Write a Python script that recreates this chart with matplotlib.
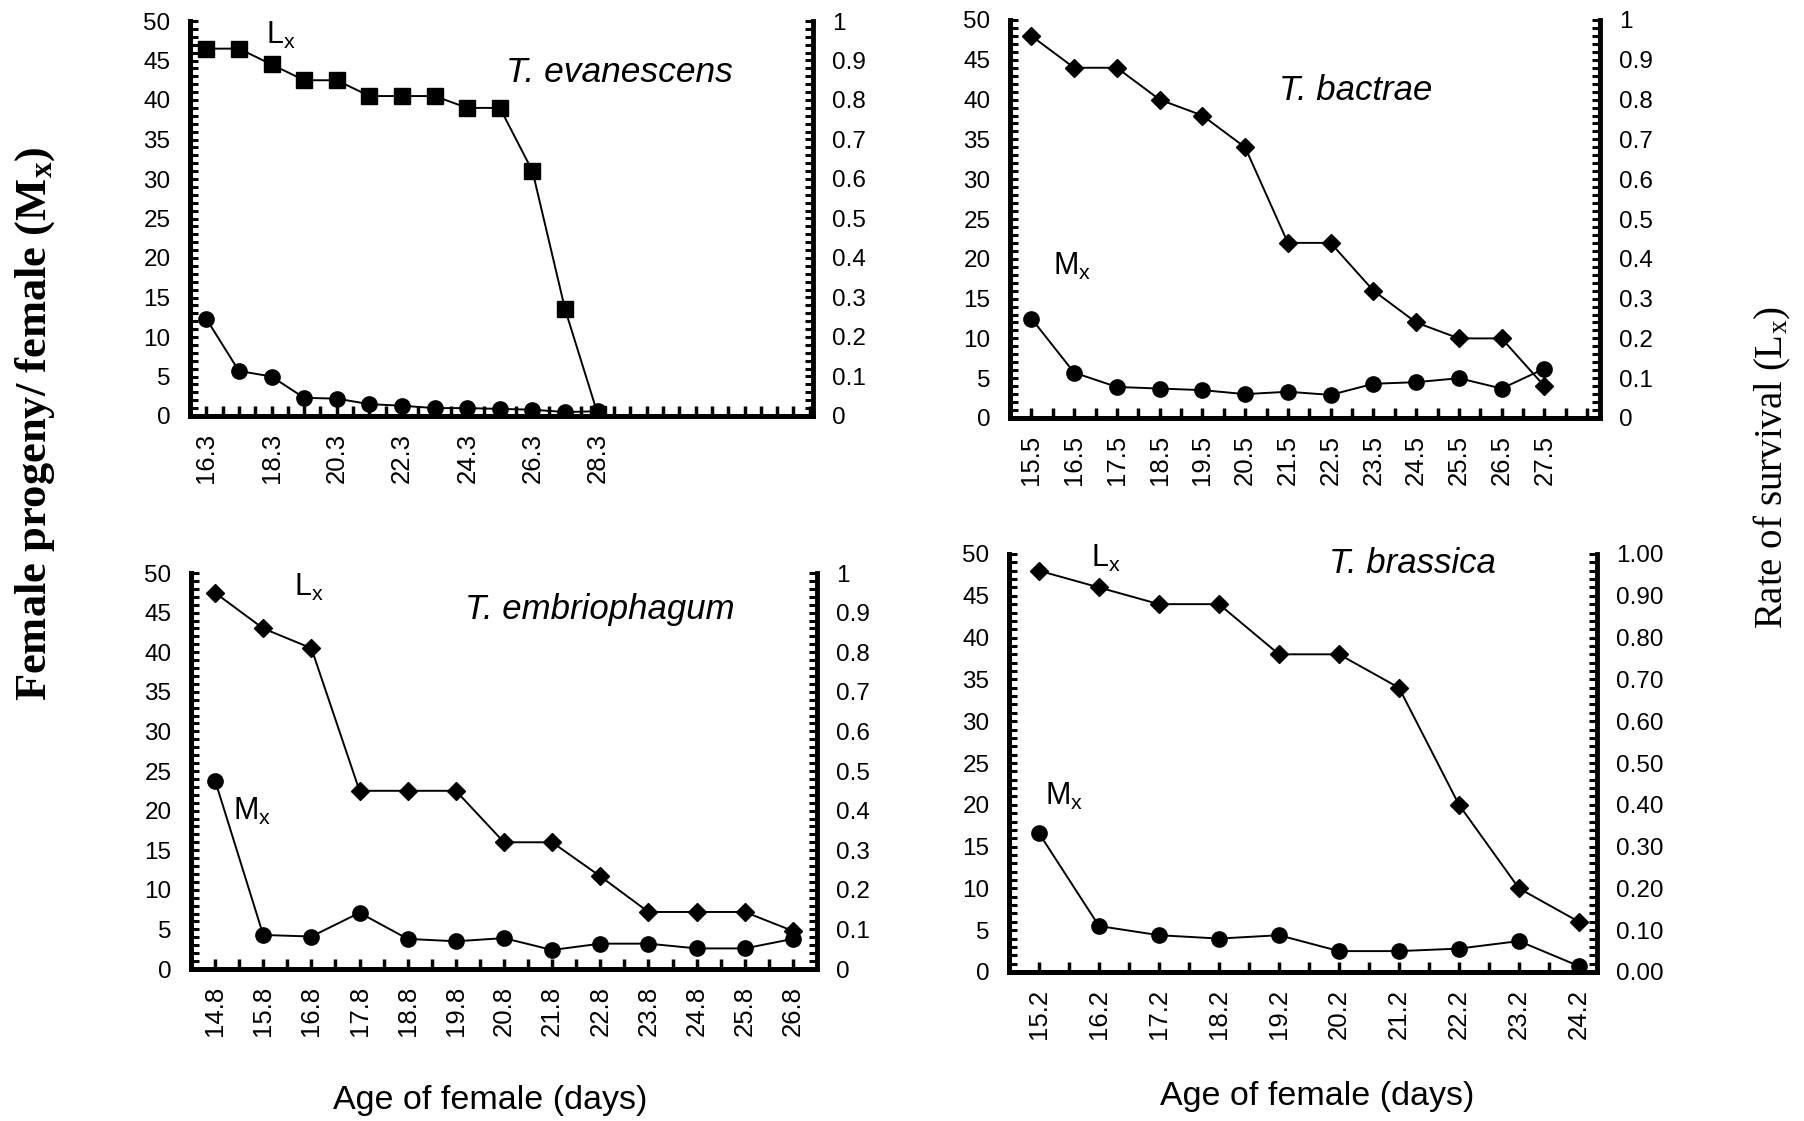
import numpy as np
import matplotlib
matplotlib.use("Agg")
import matplotlib.pyplot as plt
from matplotlib.ticker import MultipleLocator, FormatStrFormatter, FixedLocator

plt.rcParams['font.family'] = ['Liberation Sans', 'DejaVu Sans']

# --- data ---
# T. evanescens (top left)
ev_age = ['16.3', '17.3', '18.3', '19.3', '20.3', '21.3', '22.3', '23.3', '24.3', '25.3', '26.3', '27.3', '28.3']
ev_lx = [0.93, 0.93, 0.89, 0.85, 0.85, 0.81, 0.81, 0.81, 0.78, 0.78, 0.62, 0.27, 0.005]
ev_mx = [12.3, 5.7, 5.0, 2.3, 2.2, 1.5, 1.3, 1.0, 1.0, 0.9, 0.8, 0.5, 0.6]

# T. bactrae (top right)
ba_age = ['15.5', '16.5', '17.5', '18.5', '19.5', '20.5', '21.5', '22.5', '23.5', '24.5', '25.5', '26.5', '27.5']
ba_lx = [0.96, 0.88, 0.88, 0.80, 0.76, 0.68, 0.44, 0.44, 0.32, 0.24, 0.20, 0.20, 0.08]
ba_mx = [12.5, 5.7, 3.9, 3.7, 3.5, 3.0, 3.3, 2.9, 4.3, 4.5, 5.0, 3.7, 6.2]

# T. embriophagum (bottom left)
em_age = ['14.8', '15.8', '16.8', '17.8', '18.8', '19.8', '20.8', '21.8', '22.8', '23.8', '24.8', '25.8', '26.8']
em_lx = [0.95, 0.86, 0.81, 0.45, 0.45, 0.45, 0.32, 0.32, 0.234, 0.144, 0.144, 0.144, 0.096]
em_mx = [23.8, 4.3, 4.1, 7.1, 3.8, 3.5, 3.9, 2.4, 3.2, 3.2, 2.6, 2.6, 3.8]

# T. brassica (bottom right)
br_age = ['15.2', '16.2', '17.2', '18.2', '19.2', '20.2', '21.2', '22.2', '23.2', '24.2']
br_lx = [0.96, 0.92, 0.88, 0.88, 0.76, 0.76, 0.68, 0.40, 0.20, 0.12]
br_mx = [16.6, 5.5, 4.4, 4.0, 4.4, 2.5, 2.5, 2.8, 3.7, 0.7]

W, H = 1804, 1121
fig = plt.figure(figsize=(W / 100, H / 100), dpi=100)


def px_rect(l, r, t, b):
    return [l / W, 1 - b / H, (r - l) / W, (b - t) / H]


def panel(rect, ages, lx, mx, lx_marker, xmax, label_step, rfmt, ms_lx):
    ax = fig.add_axes(rect)
    ax2 = ax.twinx()
    x = np.arange(len(ages))
    ax.plot(x, mx, color='black', lw=1.4, marker='o', ms=11, zorder=3)
    ax2.plot(x, lx, color='black', lw=1.4, marker=lx_marker, ms=ms_lx, zorder=3)
    ax.set_xlim(-0.5, xmax)
    ax.set_ylim(0, 50)
    ax2.set_ylim(0, 1)
    for a in (ax, ax2):
        a.spines['top'].set_visible(False)
        for s in ('left', 'right', 'bottom'):
            a.spines[s].set_linewidth(3.5)
        a.patch.set_visible(False)
    ax.spines['right'].set_visible(False)
    # x ticks
    ax.xaxis.set_major_locator(FixedLocator(x))
    labs = [a if i % label_step == 0 else '' for i, a in enumerate(ages)]
    ax.set_xticklabels(labs, rotation=90, fontsize=18.5)
    ax.xaxis.set_minor_locator(FixedLocator(np.arange(0.5, xmax, 0.5)))
    ax.tick_params(axis='x', which='both', direction='in', length=7, width=2.5, pad=12)
    # left y
    ax.yaxis.set_major_locator(MultipleLocator(5))
    ax.yaxis.set_minor_locator(MultipleLocator(1))
    ax.tick_params(axis='y', which='both', direction='in', length=6, width=2.2, labelsize=17.5, pad=14)
    # right y
    ax2.yaxis.set_major_locator(MultipleLocator(0.1))
    ax2.yaxis.set_minor_locator(MultipleLocator(0.02))
    ax2.yaxis.set_major_formatter(FormatStrFormatter(rfmt))
    ax2.tick_params(axis='y', which='both', direction='in', length=6, width=2.2, labelsize=17.5, pad=14)
    return ax


ax_tl = panel(px_rect(190, 813, 21, 416), ev_age, ev_lx, ev_mx, 's', 18.6, 2, '%g', 11)
ax_tr = panel(px_rect(1010, 1600, 20, 418), ba_age, ba_lx, ba_mx, 'D', 13.3, 1, '%g', 9)
ax_bl = panel(px_rect(191, 817, 573, 969), em_age, em_lx, em_mx, 'D', 12.5, 1, '%g', 9)
ax_br = panel(px_rect(1009, 1597, 554, 972), br_age, br_lx, br_mx, 'D', 9.3, 1, '%.2f', 9)

# species names and curve labels
ax_tl.text(9.2, 43.5, 'T. evanescens', style='italic', fontsize=25.5, va='center')
ax_tl.text(1.84, 48.2, r'L$\mathregular{_x}$', fontsize=22, va='center')
ax_tr.text(5.8, 41.2, 'T. bactrae', style='italic', fontsize=25, va='center')
ax_tr.text(0.5, 19.0, r'M$\mathregular{_x}$', fontsize=22, va='center')
ax_bl.text(5.18, 45.4, 'T. embriophagum', style='italic', fontsize=25, va='center')
ax_bl.text(1.63, 48.2, r'L$\mathregular{_x}$', fontsize=22, va='center')
ax_bl.text(0.37, 19.9, r'M$\mathregular{_x}$', fontsize=22, va='center')
ax_br.text(4.83, 48.9, 'T. brassica', style='italic', fontsize=25, va='center')
ax_br.text(0.86, 49.5, r'L$\mathregular{_x}$', fontsize=22, va='center')
ax_br.text(0.1, 21.0, r'M$\mathregular{_x}$', fontsize=22, va='center')

# axis titles
fig.text(490 / W, 1 - 1101 / H, 'Age of female (days)', fontsize=24.5, ha='center', va='center')
fig.text(1317 / W, 1 - 1097 / H, 'Age of female (days)', fontsize=24.5, ha='center', va='center')
fig.text(35 / W, 1 - 424 / H, r'Female progeny/ female (M$\mathregular{_x}$)', family='Liberation Serif',
         fontweight='bold', fontsize=32, rotation=90, ha='center', va='center')
fig.text(1772 / W, 1 - 468 / H, r'Rate of survival (L$\mathregular{_x}$)', family='Liberation Serif',
         fontsize=28, rotation=90, ha='center', va='center')

fig.savefig('out.png', dpi=100)
